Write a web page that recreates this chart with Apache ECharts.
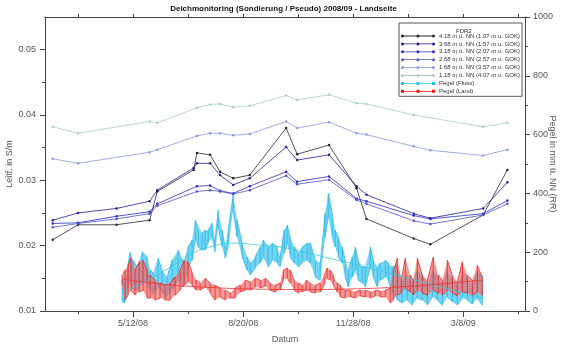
<!DOCTYPE html>
<html><head><meta charset="utf-8">
<script src="https://cdn.jsdelivr.net/npm/echarts@6/dist/echarts.min.js"></script>
<style>html,body{margin:0;padding:0;background:#fff}#c{width:567px;height:346px}</style>
</head><body><div id="c"></div>
<script>
// ---- axis ticks (x in days relative to 5/12/08) ----
const xTickDays = [0, 100, 200, 300];
const xTickLabels = ['5/12/08', '8/20/08', '11/28/08', '3/8/09'];
const xMinorDays = [-50, 50, 150, 250, 350];
const leftTicks = [0.01, 0.02, 0.03, 0.04, 0.05];
const leftMinorTicks = [0.015, 0.025, 0.035, 0.045];

// ---- FDR2 conductivity (S/m) ----
const fdrDays = [-73, -50, -15, 15, 22, 55, 58, 70, 79, 91, 106, 139, 149, 178, 203, 212, 255, 270, 318, 340];
const fdr418 = [0.0209,0.0232,0.0232,0.0239,0.0283,0.0316,0.0342,0.0339,0.0313,0.0303,0.0308,0.0380,0.0340,0.0354,0.0288,0.0241,0.0211,0.0202,0.0247,0.0316];
const fdr368 = [0.0239,0.0250,0.0257,0.0268,0.0285,0.0319,0.0326,0.0326,0.0308,0.0293,0.0303,0.0351,0.0331,0.0339,0.0291,0.0278,0.0249,0.0242,0.0257,0.0297];
const fdr318 = [0.0234,0.0235,0.0245,0.0252,0.0264,null,0.0291,0.0292,0.0284,0.0280,0.0291,0.0313,0.0298,0.0306,0.0272,0.0268,0.0246,0.0241,0.0249,0.0269];
const fdr268 = [0.0228,0.0234,0.0241,0.0249,0.0261,null,0.0283,0.0285,0.0283,0.0279,0.0285,0.0307,0.0294,0.0301,0.0270,0.0264,0.0238,0.0233,0.0247,0.0264];
const fdr168 = [0.0333,0.0326,null,0.0343,0.0347,null,0.0368,0.0372,0.0372,0.0369,0.0371,0.0390,0.0380,0.0389,0.0372,0.0370,0.0352,0.0346,0.0338,0.0347];
const fdr118 = [0.0382,0.0372,null,0.0390,0.0388,null,0.0411,0.0416,0.0417,0.0412,0.0414,0.0430,0.0423,0.0431,0.0418,0.0417,0.0400,null,0.0382,0.0388];

// ---- Pegel (Fluss), envelope low/high in mm ----
const flussDays = [-10,-8,-5.5,-2.7,0,3.6,8.2,12.7,15.5,18.2,22.7,26.4,30.9,35.5,40.9,45.5,50,53.6,56.4,59.1,62.7,65.5,68.2,71.8,74.5,77.3,80.9,83.6,86.4,90.9,94.5,99.1,103.6,106.4,110.9,115.5,118.2,122.7,126.4,130.9,133.6,137.3,140,142.7,146.4,150,153.6,158.2,160.9,165.5,170,174.5,177.3,180.9,183.6,186.4,190,192.7,195.5,199.1,201.8,204.5,208.2,210.9,215.5,218.2,221.8,224.5,229.1,231.8,235.5,240,244.5,249.1,253.6,258.2,262.7,267.3,271.8,276.4,280.9,285.5,290,294.5,299.1,303.6,308.2,312.7,317.3];
const flussLow = [31,27,61,105,71,71,95,105,71,54,82,61,48,71,105,82,139,173,241,218,207,207,231,252,201,286,218,180,218,343,252,184,139,122,146,163,184,150,173,163,150,197,231,184,163,150,163,173,163,116,105,252,320,252,218,184,163,116,82,116,139,105,95,82,150,116,82,105,116,105,61,37,27,37,20,44,37,20,48,37,20,48,31,20,44,37,24,44,20];
const flussHigh = [105,95,139,201,173,150,201,184,139,129,180,139,116,173,207,163,218,241,309,286,265,275,275,299,241,343,275,218,275,394,309,231,184,163,184,218,241,218,231,218,184,275,292,252,218,197,218,231,231,173,163,333,401,333,275,252,218,173,139,184,218,173,150,150,218,173,150,163,173,163,150,156,105,122,95,139,122,88,139,116,88,133,112,82,133,112,88,133,122];

// ---- Pegel (Land), envelope low/high in mm ----
const landDays = [-10,-7.3,-4.5,-1.8,1.8,5.5,9.1,12.7,15.5,20,24.5,29.1,33.6,38.2,42.7,46.4,50,53.6,57.3,60.9,65.5,70,74.5,79.1,83.6,88.2,92.7,97.3,101.8,106.4,110.9,115.5,120,124.5,129.1,133.6,136.4,140,142.7,146.4,150,153.6,157.3,160.9,165.5,170,173.6,176.4,179.1,181.8,185.5,188.2,192.7,197.3,201.8,206.4,210.9,215.5,220,224.5,229.1,233.6,236.4,240,243.6,247.3,251.8,254.5,258.2,262.7,267.3,272.7,277.3,280.9,285.5,290,294.5,299.1,303.6,308.2,312.7,317.3];
const landLow = [88,37,54,71,54,65,71,44,44,37,44,37,37,54,71,88,99,88,71,71,82,61,37,48,37,44,44,65,71,71,82,78,85,71,65,71,105,112,95,71,61,65,71,65,61,65,88,112,105,88,65,48,44,48,44,51,48,44,51,48,48,27,37,54,61,78,65,54,71,61,54,71,61,54,71,61,51,65,61,51,65,51];
const landHigh = [119,139,156,180,139,167,173,139,122,105,95,88,95,116,139,173,167,133,105,95,112,95,88,78,71,61,78,88,105,99,112,105,112,95,88,95,139,146,139,105,95,88,105,95,88,95,122,146,139,122,95,88,71,71,65,71,71,65,71,68,71,78,133,180,105,180,122,105,180,122,105,184,122,105,173,122,99,167,122,105,156,112];

// ---- trend curves (mm) ----
const flussTrendDays = [-10,6.4,24.5,40,54.5,70,91,115.5,133.6,154.5,185.5,215.5,245.5,279,317];
const flussTrendMm = [65,92,129,163,197,218,231,224,218,201,173,146,116,82,44];
const landTrendDays = [-10,24.5,61,106.4,152,197,243,279,317];
const landTrendMm = [109,92,82,75,73,75,82,92,105];

const legendNames = ['4.18 m ü. NN (1.07 m u. GOK)','3.68 m ü. NN (1.57 m u. GOK)','3.18 m ü. NN (2.07 m u. GOK)','2.68 m ü. NN (2.57 m u. GOK)','1.68 m ü. NN (3.57 m u. GOK)','1.18 m ü. NN (4.07 m u. GOK)','Pegel (Fluss)','Pegel (Land)'];
const fdrSeries = [fdr418, fdr368, fdr318, fdr268, fdr168, fdr118];
const fdrColors = ['#262636','#1f1f8f','#2b2bc0','#4b55c8','#8a98e0','#a9cbc7'];

const pair = (days, vals) => days.map((d, i) => [d, vals[i]]);
const zig = (days, lo, hi) => { const o = []; days.forEach((d, i) => { if (i % 2 === 0) { o.push([d, lo[i]], [d, hi[i]]); } else { o.push([d, hi[i]], [d, lo[i]]); } }); return o; };

// band polygon drawn through the chart's own coordinate system
function bandSeries(days, lo, hi, fill, opacity, z) {
  return {
    type:'custom', xAxisIndex:0, yAxisIndex:2, silent:true, z:z,
    data: days.map((d, i) => [d, lo[i], hi[i]]),
    encode:{x:0, y:[1,2]},
    renderItem: (params, api) => {
      if (params.dataIndex !== 0) return null;
      const pts = [];
      for (let i = 0; i < days.length; i++) pts.push(api.coord([days[i], hi[i]]));
      for (let i = days.length - 1; i >= 0; i--) pts.push(api.coord([days[i], lo[i]]));
      return { type:'polygon', shape:{points:pts}, style:{fill:fill, opacity:opacity, stroke:null} };
    }
  };
}

const dotIcon = 'path://M0,1.1H34V1.9H0Z M0,1.5A1.5,1.5 0 1,1 3,1.5A1.5,1.5 0 1,1 0,1.5Z M15.5,1.5A1.5,1.5 0 1,1 18.5,1.5A1.5,1.5 0 1,1 15.5,1.5Z M31,1.5A1.5,1.5 0 1,1 34,1.5A1.5,1.5 0 1,1 31,1.5Z';
const sqIcon = 'path://M0,1.1H34V1.9H0Z M0,0H3V3H0Z M15.5,0H18.5V3H15.5Z M31,0H34V3H31Z';

const series = [];
series.push(bandSeries(flussDays, flussLow, flussHigh, '#74d4f2', 1, 1));
series.push({ name:'Pegel (Fluss)', type:'line', xAxisIndex:0, yAxisIndex:2, data: zig(flussDays, flussLow, flussHigh), symbol:'none', showSymbol:false, color:'#22c4ee', lineStyle:{width:0.7, color:'#18b4e6'}, z:2 });
series.push(bandSeries(landDays, landLow, landHigh, '#f06c6c', 0.7, 3));
series.push({ name:'Pegel (Land)', type:'line', xAxisIndex:0, yAxisIndex:2, data: zig(landDays, landLow, landHigh), symbol:'none', showSymbol:false, color:'#ee1111', lineStyle:{width:0.7, color:'#e81818'}, z:4 });
series.push({ type:'line', xAxisIndex:0, yAxisIndex:2, data: pair(flussTrendDays, flussTrendMm), smooth:true, symbol:'none', lineStyle:{width:0.8, color:'#40c8dc'}, silent:true, z:5 });
series.push({ type:'line', xAxisIndex:0, yAxisIndex:2, data: pair(landTrendDays, landTrendMm), smooth:true, symbol:'none', lineStyle:{width:0.8, color:'#ec3030'}, silent:true, z:5 });
fdrSeries.forEach((vals, k) => {
  series.push({ name: legendNames[k], type:'line', xAxisIndex:0, yAxisIndex:0, data: pair(fdrDays, vals), connectNulls:true,
    symbol:'circle', symbolSize:2.5, showSymbol:true, color: fdrColors[k], lineStyle:{width:0.8, color: fdrColors[k]}, itemStyle:{color: fdrColors[k], borderWidth:0}, z:10 });
});

const axisCol = '#444', labCol = '#555';
const chart = echarts.init(document.getElementById('c'), null, {renderer:'canvas'});
chart.setOption({
  animation:false,
  backgroundColor:'#fff',
  title:[
    { text:'Deichmonitoring (Sondierung / Pseudo) 2008/09 - Landseite', left:'center', top:0,
      textStyle:{fontFamily:'Liberation Sans', fontSize:8, fontWeight:'bold', color:'#111'} },
    { text:'FDR2', left:451, top:23, z:20, textStyle:{fontFamily:'Liberation Sans', fontSize:6, fontWeight:'normal', color:'#333'} }
  ],
  legend:{
    orient:'vertical', left:399, top:23, selectedMode:false, z:4,
    backgroundColor:'#fff', borderColor:'#555', borderWidth:1, padding:[9.5,2,1.5,2],
    itemWidth:34, itemHeight:3, itemGap:0.9,
    textStyle:{fontFamily:'Liberation Sans', fontSize:6, lineHeight:7, color:'#333', padding:[0,0,0,-1]},
    itemStyle:{borderWidth:0},
    data: legendNames.map((n, i) => ({ name:n, icon: i < 6 ? dotIcon : sqIcon }))
  },
  grid:{left:45, right:42, top:17, bottom:35, containLabel:false, outerBoundsMode:'none'},
  xAxis:[
    { type:'value', position:'bottom', min:-80, max:356,
      name:'Datum', nameLocation:'middle', nameGap:24, nameMoveOverlap:false, nameTextStyle:{fontFamily:'Liberation Sans', fontSize:9, color:labCol},
      axisLine:{show:true, onZero:false, lineStyle:{color:axisCol, width:1}},
      axisTick:{show:true, customValues:xTickDays, length:6, lineStyle:{color:axisCol}},
      axisLabel:{customValues:xTickDays, margin:8, fontFamily:'Liberation Sans', fontSize:9, color:labCol,
        formatter: v => xTickLabels[xTickDays.indexOf(v)] || ''},
      splitLine:{show:false} },
    { type:'value', position:'bottom', min:-80, max:356,
      axisLine:{show:false, onZero:false},
      axisTick:{show:true, customValues:xMinorDays, length:3, lineStyle:{color:axisCol}},
      axisLabel:{show:false}, splitLine:{show:false} },
    { type:'value', position:'top', min:-80, max:356,
      axisLine:{show:true, onZero:false, lineStyle:{color:axisCol, width:1}},
      axisTick:{show:true, customValues:xTickDays.concat(xMinorDays), length:3, lineStyle:{color:axisCol}},
      axisLabel:{show:false}, splitLine:{show:false} }
  ],
  yAxis:[
    { type:'value', position:'left', min:0.01, max:0.055,
      name:'Leitf. in S/m', nameLocation:'middle', nameGap:31, nameMoveOverlap:false, nameTextStyle:{fontFamily:'Liberation Sans', fontSize:9, color:labCol},
      axisLine:{show:true, onZero:false, lineStyle:{color:axisCol, width:1}},
      axisTick:{show:true, customValues:leftTicks, length:5, lineStyle:{color:axisCol}},
      axisLabel:{customValues:leftTicks, margin:9, fontFamily:'Liberation Sans', fontSize:9, color:labCol, formatter: v => v.toFixed(2)},
      splitLine:{show:false} },
    { type:'value', position:'left', min:0.01, max:0.055,
      axisLine:{show:false, onZero:false},
      axisTick:{show:true, customValues:leftMinorTicks, length:3, lineStyle:{color:axisCol}},
      axisLabel:{show:false}, splitLine:{show:false} },
    { type:'value', position:'right', min:0, max:1000, interval:200,
      name:'Pegel in mm ü. NN (RR)', nameLocation:'middle', nameGap:23, nameRotate:-90, nameMoveOverlap:false,
      nameTextStyle:{fontFamily:'Liberation Sans', fontSize:9, color:labCol},
      axisLine:{show:true, onZero:false, lineStyle:{color:axisCol, width:1}},
      axisTick:{show:true, length:5, lineStyle:{color:axisCol}},
      minorTick:{show:true, splitNumber:2, length:3, lineStyle:{color:axisCol}},
      axisLabel:{margin:8, fontFamily:'Liberation Sans', fontSize:9, color:labCol, formatter: v => String(v)},
      splitLine:{show:false}, minorSplitLine:{show:false} }
  ],
  series: series
});
</script>
</body></html>
